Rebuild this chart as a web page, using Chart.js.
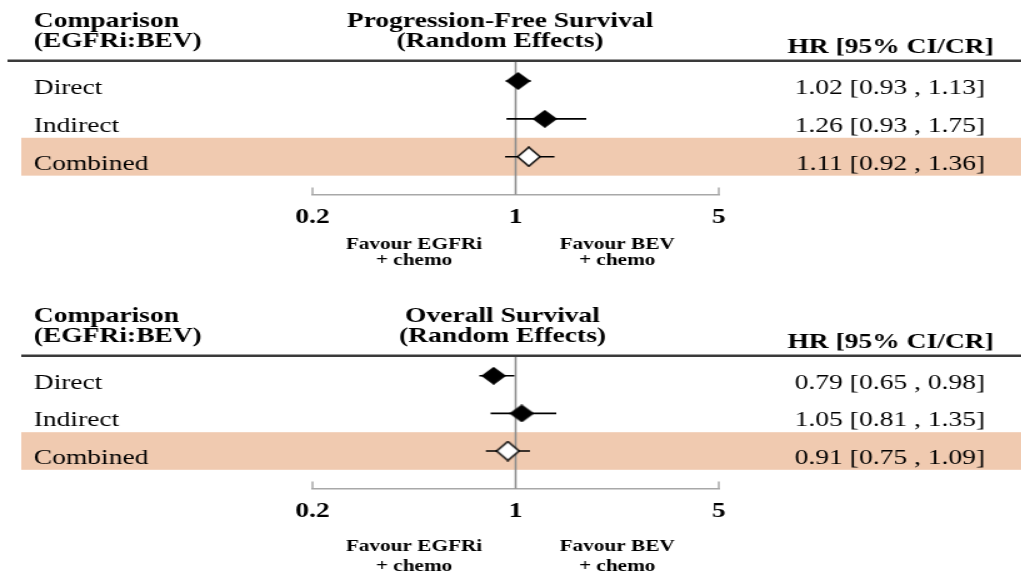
<!DOCTYPE html>
<html>
<head>
<meta charset="utf-8">
<script src="https://cdn.jsdelivr.net/npm/chart.js@4/dist/chart.umd.min.js"></script>
<style>
  body { margin: 0; background: #fff; font-family: "Liberation Serif", serif; }
  .panel { position: absolute; left: 0; width: 817px; transform: scaleX(1.25); transform-origin: 0 0; }
  .warm { position: absolute; left: -9999px; top: 0; font-size: 22px; }
</style>
</head>
<body>
<span class="warm">Aa <b>Bb</b></span>
<div class="panel" style="top:0; height:290px"><canvas id="pfsChart"></canvas></div>
<div class="panel" style="top:295px; height:278px"><canvas id="osChart"></canvas></div>
<script>
const rowLabels = ['Direct', 'Indirect', 'Combined'];
const rowIndex = [1, 2, 3];
const xTicks = [0.2, 1, 5];
const favourLeft = ['Favour EGFRi', '+ chemo'];
const favourRight = ['Favour BEV', '+ chemo'];

// Progression-free survival
const pfsHR = [1.02, 1.26, 1.11];
const pfsLow = [0.93, 0.93, 0.92];
const pfsHigh = [1.13, 1.75, 1.36];
const pfsText = ['1.02 [0.93 , 1.13]', '1.26 [0.93 , 1.75]', '1.11 [0.92 , 1.36]'];

// Overall survival (marks placed where the figure draws them)
const osHR = [0.84, 1.05, 0.94];
const osLow = [0.75, 0.82, 0.79];
const osHigh = [0.99, 1.38, 1.12];
const osText = ['0.79 [0.65 , 0.98]', '1.05 [0.81 , 1.35]', '0.91 [0.75 , 1.09]'];

function diamond(w, h, fill) {
    const c = document.createElement('canvas');
    c.width = w + 2;
    c.height = h + 2;
    const g = c.getContext('2d');
    g.beginPath();
    g.moveTo(c.width / 2, 1);
    g.lineTo(c.width - 1, c.height / 2);
    g.lineTo(c.width / 2, c.height - 1);
    g.lineTo(1, c.height / 2);
    g.closePath();
    g.fillStyle = fill;
    g.fill();
    g.lineWidth = 1.5;
    g.strokeStyle = '#000';
    g.stroke();
    return c;
}
const solidDiamond = diamond(18, 16, '#000');
const openDiamond = diamond(18, 19, '#fff');

const serif = '"Liberation Serif"';

const forestPlugin = {
    id: 'forest',
    beforeDatasetsDraw(chart, args, o) {
        const { ctx, chartArea: a, scales: { x, y } } = chart;
        ctx.save();
        // shaded "Combined" row
        const bTop = y.getPixelForValue(o.bandRow - 0.5);
        const bBot = y.getPixelForValue(o.bandRow + 0.5);
        ctx.fillStyle = '#f0cab0';
        ctx.fillRect(o.bandLeft, bTop, chart.width - o.bandLeft, bBot - bTop);
        // header rule
        ctx.fillStyle = '#3a3a3a';
        ctx.fillRect(o.ruleLeft, a.top - 2.5, chart.width - o.ruleLeft, 2.5);
        // line of no effect
        const x1 = x.getPixelForValue(1);
        ctx.strokeStyle = '#8c8c8c';
        ctx.lineWidth = 1.6;
        ctx.beginPath();
        ctx.moveTo(x1, a.top);
        ctx.lineTo(x1, a.bottom);
        ctx.stroke();
        // bracket ends of the axis
        ctx.strokeStyle = '#a8a8a8';
        ctx.lineWidth = 1.5;
        [xTicks[0], xTicks[xTicks.length - 1]].forEach(v => {
            const px = x.getPixelForValue(v);
            ctx.beginPath();
            ctx.moveTo(px, a.bottom - 7);
            ctx.lineTo(px, a.bottom);
            ctx.stroke();
        });
        ctx.restore();
    },
    afterDraw(chart, args, o) {
        const { ctx, chartArea: a, scales: { x, y } } = chart;
        ctx.save();
        ctx.fillStyle = '#000';
        ctx.textBaseline = 'alphabetic';
        ctx.font = 'bold 22px ' + serif;
        ctx.textAlign = 'left';
        ctx.fillText('Comparison', o.leftX, a.top - 35);
        ctx.fillText('(EGFRi:BEV)', o.leftX, a.top - 15);
        ctx.textAlign = 'center';
        ctx.fillText(o.title, o.titleX, a.top - 35);
        ctx.fillText('(Random Effects)', o.titleX, a.top - 15);
        ctx.textAlign = 'right';
        ctx.fillText('HR [95% CI/CR]', o.hrHeadX, a.top - 9);

        ctx.font = '22px ' + serif;
        rowIndex.forEach((r, i) => {
            const py = y.getPixelForValue(r) + 13;
            ctx.textAlign = 'left';
            ctx.fillText(rowLabels[i], o.leftX, py);
            ctx.textAlign = 'right';
            ctx.fillText(o.hrText[i], o.hrX, py);
        });

        // favour labels under the axis
        ctx.font = 'bold 17px ' + serif;
        ctx.textAlign = 'center';
        const p0 = x.getPixelForValue(xTicks[0]);
        const p1 = x.getPixelForValue(1);
        const p2 = x.getPixelForValue(xTicks[xTicks.length - 1]);
        [[favourLeft, (p0 + p1) / 2], [favourRight, (p1 + p2) / 2]].forEach(([lines, cx]) => {
            lines.forEach((t, k) => ctx.fillText(t, cx, a.bottom + o.favourY[k]));
        });
        ctx.restore();
    }
};

function buildPanel(id, hr, low, high, opts) {
    const ciSets = rowIndex.map((r, i) => ({
        type: 'line',
        data: [{ x: low[i], y: r }, { x: high[i], y: r }],
        borderColor: '#000',
        borderWidth: 1.6,
        pointRadius: 0,
        order: 2
    }));
    const marks = {
        type: 'scatter',
        data: rowIndex.map((r, i) => ({ x: hr[i], y: r })),
        pointStyle: rowLabels.map(l => l === 'Combined' ? openDiamond : solidDiamond),
        pointRadius: 9,
        order: 1
    };
    return new Chart(document.getElementById(id), {
        type: 'scatter',
        data: { datasets: [...ciSets, marks] },
        options: {
            responsive: true,
            maintainAspectRatio: false,
            animation: false,
            events: [],
            layout: { padding: { top: 62, left: 250, right: 242, bottom: opts.padBottom } },
            plugins: {
                legend: { display: false },
                tooltip: { enabled: false },
                forest: opts
            },
            scales: {
                x: {
                    type: 'logarithmic',
                    min: xTicks[0],
                    max: xTicks[xTicks.length - 1],
                    afterBuildTicks: s => { s.ticks = xTicks.map(v => ({ value: v })); },
                    grid: { display: false, drawTicks: false, tickLength: 0 },
                    border: { display: true, color: '#a8a8a8', width: 1.5 },
                    ticks: {
                        autoSkip: false,
                        maxRotation: 0,
                        padding: 10,
                        color: '#000',
                        font: { family: serif, size: 22, weight: 'bold' },
                        callback: v => String(v)
                    }
                },
                y: { type: 'linear', min: 0.5, max: 4, reverse: true, display: false }
            }
        },
        plugins: [forestPlugin]
    });
}

function drawAll() {
    buildPanel('pfsChart', pfsHR, pfsLow, pfsHigh, {
        title: 'Progression-Free Survival', titleX: 400, hrText: pfsText,
        leftX: 27, hrX: 788, hrHeadX: 795, bandRow: 3, bandLeft: 17, ruleLeft: 6,
        favourY: [54, 70], padBottom: 49
    });
    buildPanel('osChart', osHR, osLow, osHigh, {
        title: 'Overall Survival', titleX: 402, hrText: osText,
        leftX: 27, hrX: 788, hrHeadX: 795, bandRow: 3, bandLeft: 17, ruleLeft: 17,
        favourY: [62, 82], padBottom: 38
    });
}

Promise.all([
    document.fonts.load('22px "Liberation Serif"'),
    document.fonts.load('bold 22px "Liberation Serif"')
]).then(drawAll, drawAll);
</script>
</body>
</html>
